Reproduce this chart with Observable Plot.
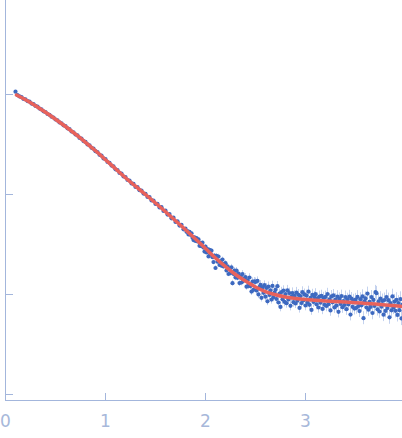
<!DOCTYPE html>
<html>
<head>
<meta charset="utf-8">
<script src="https://cdn.jsdelivr.net/npm/d3@7"></script>
<script src="https://cdn.jsdelivr.net/npm/@observablehq/plot@0.6"></script>
<style>
  html, body { margin: 0; padding: 0; background: #fff; }
  #chart svg { display: block; }
</style>
</head>
<body>
<div id="chart"></div>
<script>
// Scattering vector q (nm^-1)
const q = [
  0.10,0.12,0.14,0.16,0.18,0.20,0.22,0.24,0.26,0.28,0.30,0.32,0.34,0.36,0.38,0.40,0.42,0.44,0.46,0.48,
  0.50,0.52,0.54,0.56,0.58,0.60,0.62,0.64,0.66,0.68,0.70,0.72,0.74,0.76,0.78,0.80,0.82,0.84,0.86,0.88,
  0.90,0.92,0.94,0.96,0.98,1.00,1.02,1.04,1.06,1.08,1.10,1.12,1.14,1.16,1.18,1.20,1.22,1.24,1.26,1.28,
  1.30,1.32,1.34,1.36,1.38,1.40,1.42,1.44,1.46,1.48,1.50,1.52,1.54,1.56,1.58,1.60,1.62,1.64,1.66,1.68,
  1.70,1.72,1.74,1.76,1.78,
  1.80,1.81,1.82,1.83,1.84,1.85,1.86,1.87,1.88,1.89,
  1.90,1.91,1.92,1.93,1.94,1.95,1.96,1.97,1.98,1.99,
  2.00,2.01,2.02,2.03,2.04,2.05,2.06,2.07,2.08,2.09,
  2.10,2.11,2.12,2.13,2.14,2.15,2.16,2.17,2.18,2.19,
  2.20,2.21,2.22,2.23,2.24,2.25,2.26,2.27,2.28,2.29,
  2.30,2.31,2.32,2.33,2.34,2.35,2.36,2.37,2.38,2.39,
  2.40,2.41,2.42,2.43,2.44,2.45,2.46,2.47,2.48,2.49,
  2.50,2.51,2.52,2.53,2.54,2.55,2.56,2.57,2.58,2.59,
  2.60,2.61,2.62,2.63,2.64,2.65,2.66,2.67,2.68,2.69,
  2.70,2.71,2.72,2.73,2.74,2.75,2.76,2.77,2.78,2.79,
  2.80,2.81,2.82,2.83,2.84,2.85,2.86,2.87,2.88,2.89,
  2.90,2.91,2.92,2.93,2.94,2.95,2.96,2.97,2.98,2.99,
  3.00,3.01,3.02,3.03,3.04,3.05,3.06,3.07,3.08,3.09,
  3.10,3.11,3.12,3.13,3.14,3.15,3.16,3.17,3.18,3.19,
  3.20,3.21,3.22,3.23,3.24,3.25,3.26,3.27,3.28,3.29,
  3.30,3.31,3.32,3.33,3.34,3.35,3.36,3.37,3.38,3.39,
  3.40,3.41,3.42,3.43,3.44,3.45,3.46,3.47,3.48,3.49,
  3.50,3.51,3.52,3.53,3.54,3.55,3.56,3.57,3.58,3.59,
  3.60,3.61,3.62,3.63,3.64,3.65,3.66,3.67,3.68,3.69,
  3.70,3.71,3.72,3.73,3.74,3.75,3.76,3.77,3.78,3.79,
  3.80,3.81,3.82,3.83,3.84,3.85,3.86,3.87,3.88,3.89,
  3.90,3.91,3.92,3.93,3.94,3.95,3.96,3.97
];
// log10 intensity (arbitrary units)
const logI = [
  0.028,-0.006,-0.019,-0.027,-0.044,-0.049,-0.066,-0.071,-0.091,-0.097,-0.114,-0.121,-0.141,-0.149,-0.168,-0.175,-0.195,-0.203,-0.222,-0.230,
  -0.250,-0.259,-0.279,-0.288,-0.308,-0.316,-0.338,-0.347,-0.370,-0.378,-0.400,-0.409,-0.434,-0.442,-0.466,-0.474,-0.499,-0.508,-0.533,-0.542,
  -0.567,-0.577,-0.603,-0.611,-0.639,-0.647,-0.675,-0.683,-0.711,-0.719,-0.748,-0.755,-0.784,-0.790,-0.820,-0.826,-0.855,-0.860,-0.889,-0.894,
  -0.924,-0.927,-0.957,-0.960,-0.991,-0.993,-1.025,-1.026,-1.059,-1.060,-1.094,-1.093,-1.130,-1.127,-1.165,-1.162,-1.201,-1.196,-1.238,-1.232,
  -1.275,-1.268,-1.311,-1.303,-1.348,
  -1.342,-1.373,-1.366,-1.400,-1.374,-1.403,-1.388,-1.432,-1.456,-1.428,
  -1.465,-1.437,-1.470,-1.449,-1.513,-1.483,-1.517,-1.482,-1.531,-1.571,
  -1.520,-1.580,-1.547,-1.619,-1.553,-1.598,-1.562,-1.627,-1.676,-1.611,
  -1.735,-1.614,-1.672,-1.621,-1.705,-1.669,-1.712,-1.651,-1.720,-1.693,
  -1.687,-1.760,-1.718,-1.795,-1.743,-1.786,-1.729,-1.887,-1.794,-1.762,
  -1.830,-1.762,-1.833,-1.790,-1.886,-1.818,-1.880,-1.796,-1.863,-1.839,
  -1.826,-1.922,-1.858,-1.914,-1.830,-1.916,-1.971,-1.872,-1.953,-1.869,
  -1.875,-1.960,-1.864,-1.999,-1.924,-1.904,-2.033,-1.928,-1.983,-1.907,
  -2.022,-1.935,-2.068,-1.921,-2.004,-1.958,-2.051,-1.914,-2.027,-1.980,
  -1.953,-2.045,-1.917,-2.080,-1.992,-2.124,-1.976,-2.048,-1.961,-2.073,
  -1.995,-2.087,-1.958,-2.050,-1.986,-2.113,-2.024,-1.986,-2.077,-2.014,
  -2.090,-1.981,-2.062,-2.003,-2.134,-2.015,-2.086,-1.977,-2.058,-1.999,
  -2.110,-2.011,-2.081,-1.972,-2.103,-2.033,-2.154,-2.004,-2.075,-2.026,
  -1.997,-2.098,-2.039,-2.130,-2.021,-2.082,-2.013,-2.144,-2.035,-2.103,
  -2.024,-2.115,-1.995,-2.097,-2.048,-2.159,-2.018,-2.078,-2.009,-2.129,
  -2.050,-2.111,-2.021,-2.173,-2.044,-2.095,-2.016,-2.127,-2.067,-2.105,
  -2.026,-2.147,-2.048,-2.099,-2.020,-2.201,-2.042,-2.123,-2.061,-2.141,
  -2.052,-2.133,-2.024,-2.115,-2.166,-2.047,-2.108,-2.019,-2.237,-2.068,
  -2.039,-2.130,-1.991,-2.152,-2.073,-2.124,-2.026,-2.185,-2.054,-2.115,
  -1.976,-1.987,-2.148,-2.069,-2.170,-2.041,-2.122,-2.065,-2.202,-2.055,
  -2.164,-2.025,-2.136,-2.057,-2.228,-2.087,-2.158,-2.019,-2.130,-2.071,
  -2.163,-2.054,-2.204,-2.085,-2.157,-2.046,-2.239,-2.100
];
// error (log10 units)
const err = [
  0.004,0.004,0.004,0.004,0.004,0.004,0.004,0.004,0.004,0.004,0.004,0.004,0.004,0.004,0.004,0.004,0.004,0.004,0.004,0.004,
  0.005,0.005,0.005,0.005,0.005,0.005,0.005,0.005,0.005,0.005,0.005,0.005,0.005,0.005,0.005,0.005,0.005,0.005,0.005,0.005,
  0.006,0.006,0.006,0.006,0.006,0.006,0.006,0.006,0.006,0.006,0.006,0.006,0.006,0.006,0.006,0.007,0.007,0.007,0.007,0.007,
  0.007,0.007,0.007,0.007,0.007,0.008,0.008,0.008,0.008,0.008,0.008,0.008,0.008,0.009,0.009,0.009,0.009,0.009,0.009,0.010,
  0.010,0.010,0.010,0.011,0.011,
  0.012,0.012,0.013,0.012,0.013,0.013,0.012,0.014,0.013,0.014,
  0.015,0.014,0.016,0.015,0.016,0.015,0.017,0.016,0.017,0.016,
  0.018,0.019,0.018,0.020,0.019,0.020,0.021,0.020,0.022,0.021,
  0.022,0.023,0.022,0.024,0.023,0.025,0.024,0.025,0.026,0.025,
  0.027,0.026,0.028,0.027,0.029,0.028,0.030,0.029,0.031,0.030,
  0.031,0.032,0.031,0.033,0.032,0.034,0.033,0.035,0.034,0.035,
  0.036,0.035,0.037,0.036,0.038,0.037,0.039,0.038,0.040,0.039,
  0.040,0.041,0.040,0.042,0.041,0.043,0.042,0.043,0.044,0.043,
  0.044,0.045,0.044,0.046,0.045,0.046,0.045,0.047,0.046,0.047,
  0.046,0.048,0.047,0.048,0.047,0.049,0.048,0.049,0.048,0.050,
  0.049,0.050,0.049,0.051,0.050,0.051,0.050,0.052,0.051,0.052,
  0.051,0.052,0.051,0.053,0.052,0.053,0.052,0.054,0.053,0.054,
  0.053,0.054,0.053,0.055,0.054,0.055,0.054,0.056,0.055,0.056,
  0.055,0.056,0.055,0.057,0.056,0.057,0.056,0.058,0.057,0.058,
  0.057,0.058,0.057,0.059,0.058,0.059,0.058,0.060,0.059,0.060,
  0.059,0.060,0.059,0.061,0.060,0.061,0.060,0.062,0.061,0.062,
  0.061,0.062,0.061,0.063,0.062,0.063,0.062,0.064,0.063,0.064,
  0.063,0.064,0.063,0.065,0.064,0.065,0.064,0.066,0.065,0.066,
  0.065,0.066,0.065,0.067,0.066,0.067,0.066,0.068,0.067,0.068,
  0.067,0.068,0.067,0.069,0.068,0.069,0.068,0.070,0.069,0.070,
  0.069,0.070,0.069,0.071,0.070,0.071,0.070,0.072,0.071,0.072,
  0.071,0.072,0.071,0.073,0.072,0.073,0.072,0.074
];
// Model fit curve
const qFit = [0.11,0.2,0.3,0.4,0.5,0.6,0.7,0.8,0.9,1.0,1.1,1.2,1.3,1.4,1.5,1.6,1.7,1.8,1.9,2.0,
  2.1,2.2,2.3,2.4,2.5,2.6,2.7,2.8,2.9,3.0,3.1,3.2,3.3,3.4,3.5,3.6,3.7,3.8,3.9,3.97];
const logIFit = [-0.005,-0.052,-0.112,-0.178,-0.247,-0.320,-0.397,-0.478,-0.563,-0.652,
  -0.742,-0.832,-0.917,-1.000,-1.085,-1.172,-1.262,-1.352,-1.445,-1.540,
  -1.635,-1.722,-1.800,-1.866,-1.925,-1.972,-2.003,-2.025,-2.040,-2.050,
  -2.057,-2.064,-2.070,-2.076,-2.082,-2.089,-2.096,-2.104,-2.113,-2.120];

const xTicks = [0, 1, 2, 3];
const yTicks = [-3, -2, -1, 0];
const xDomain = [0, 3.97];
const yDomain = [-3.06, 0.94];

const points = q.map((v, i) => ({q: v, logI: logI[i], err: err[i]}));
const fit = qFit.map((v, i) => ({q: v, logI: logIFit[i]}));

const axisColor = "#a3b6dc";
const labelColor = "#a7b8da";

const chart = Plot.plot({
  width: 402,
  height: 438,
  marginLeft: 5,
  marginRight: 0,
  marginTop: 0,
  marginBottom: 38,
  style: {fontFamily: "DejaVu Sans", fontSize: "16px", background: "#fff", overflow: "visible"},
  x: {domain: xDomain, axis: null},
  y: {domain: yDomain, axis: null},
  marks: [
    Plot.ruleX(points, {x: "q", y1: d => d.logI - d.err, y2: d => d.logI + d.err, stroke: "#c4d2ee", strokeWidth: 1}),
    Plot.dot(points, {x: "q", y: "logI", r: 2.1, fill: "#3d69c0", stroke: null}),
    Plot.line(fit, {x: "q", y: "logI", stroke: "#e8625b", strokeWidth: 3.5, curve: "monotone-x"}),
    Plot.ruleX([xDomain[0]], {stroke: axisColor, strokeWidth: 1}),
    Plot.ruleY([yDomain[0]], {stroke: axisColor, strokeWidth: 1}),
    Plot.axisY({ticks: yTicks, tickSize: -8, tickFormat: () => "", label: null, stroke: axisColor}),
    Plot.axisX({ticks: xTicks, tickSize: -7, tickFormat: () => "", label: null, stroke: axisColor}),
    Plot.axisX({ticks: xTicks, tickSize: 0, tickPadding: 14, label: null, tickFormat: d3.format("d"), fill: labelColor, fontSize: 17})
  ]
});
document.getElementById("chart").appendChild(chart);
</script>
</body>
</html>
